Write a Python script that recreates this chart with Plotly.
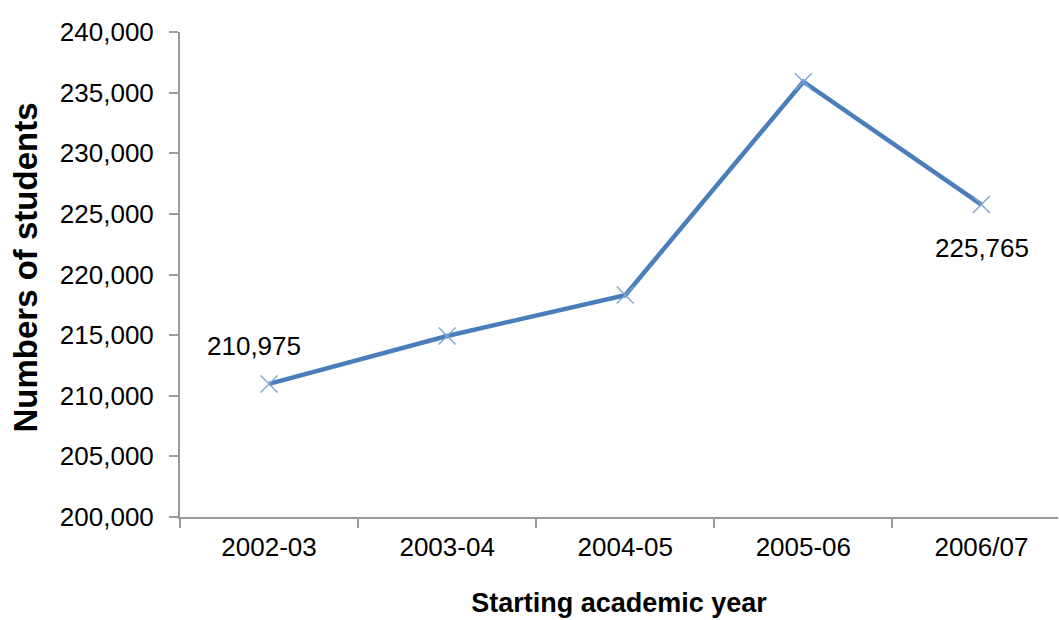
import plotly.graph_objects as go

# Student numbers by starting academic year
years = ["2002-03", "2003-04", "2004-05", "2005-06", "2006/07"]
students = [210975, 214930, 218300, 235900, 225765]
labelled_years = ["2002-03", "2006/07"]
y_ticks = list(range(200000, 240001, 5000))

line_blue = "#4A7EBB"
marker_blue = "#7FA6D8"
axis_grey = "#9A9A9A"
font_family = "Liberation Sans, Arial, sans-serif"

fig = go.Figure()
fig.add_trace(go.Scatter(
    x=years,
    y=students,
    mode="lines+markers",
    line=dict(color=line_blue, width=4.5),
    marker=dict(symbol="x-thin", size=17, line=dict(color=marker_blue, width=1.4)),
    showlegend=False,
))

# Value labels for the first and last year
for yr in labelled_years:
    v = students[years.index(yr)]
    above = yr == years[0]
    fig.add_annotation(
        x=yr, y=v, text=f"{v:,}", showarrow=False,
        xshift=-15 if above else 1,
        yshift=38 if above else -43,
        font=dict(family=font_family, size=26, color="#000000"),
    )

# Vertical axis title placed left of the tick labels
fig.add_annotation(
    xref="paper", yref="paper", x=0, y=0.5, xanchor="center", yanchor="middle",
    xshift=-155, yshift=7,
    text="<b>Numbers of students</b>", textangle=-90, showarrow=False,
    font=dict(family=font_family, size=33, color="#000000"),
)

fig.update_layout(
    width=1059, height=620,
    margin=dict(l=180, r=1, t=32, b=103),
    paper_bgcolor="white", plot_bgcolor="white",
    font=dict(family=font_family, size=26, color="#000000"),
    xaxis=dict(
        type="category",
        range=[-0.5, 4.43],
        showline=True, linecolor=axis_grey, linewidth=2,
        ticks="outside", tickson="boundaries", ticklen=9, tickcolor=axis_grey, tickwidth=2,
        showgrid=False, zeroline=False,
        tickfont=dict(size=26), ticklabelstandoff=6,
        title=dict(text="<b>Starting academic year</b>", font=dict(size=27), standoff=32),
    ),
    yaxis=dict(
        range=[200000, 240000],
        tickvals=y_ticks,
        ticktext=[f"{t:,}" for t in y_ticks],
        showline=True, linecolor=axis_grey, linewidth=2,
        ticks="outside", ticklen=9, tickcolor=axis_grey, tickwidth=2,
        showgrid=False, zeroline=False,
        tickfont=dict(size=26), ticklabelstandoff=10,
    ),
)

fig.write_html("out.html")
